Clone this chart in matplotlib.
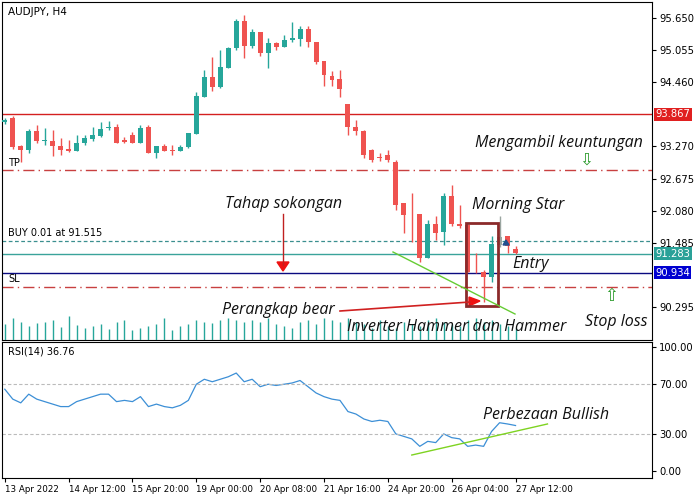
import matplotlib
matplotlib.use("Agg")
import matplotlib.pyplot as plt
from matplotlib.patches import Rectangle
import numpy as np

opens  = [93.72,93.80,93.28,93.20,93.56,93.37,93.37,93.28,93.22,93.19,93.33,93.41,93.46,93.61,93.63,93.39,93.48,93.33,93.63,93.15,
          93.28,93.20,93.19,93.26,93.50,94.19,94.56,94.37,94.72,95.09,95.59,95.13,95.39,95.00,95.19,95.11,95.24,95.26,95.45,95.20,
          94.85,94.58,94.52,94.05,93.63,93.56,93.20,93.07,93.11,92.98,92.22,92.04,92.02,91.20,91.83,91.68,92.35,91.83,91.81,90.95,
          90.94,90.85,91.44,91.61,91.37]
closes = [93.76,93.26,93.20,93.56,93.37,93.38,93.28,93.20,93.19,93.33,93.43,93.48,93.59,93.63,93.33,93.35,93.33,93.61,93.15,93.28,
          93.19,93.19,93.26,93.52,94.20,94.56,94.37,94.74,95.09,95.59,95.13,95.39,95.00,95.19,95.11,95.24,95.28,95.45,95.20,94.83,
          94.59,94.50,94.33,93.63,93.56,93.11,93.02,93.06,93.02,92.18,92.00,92.03,91.20,91.83,91.66,92.35,91.83,91.79,90.94,90.94,
          90.85,91.46,91.59,91.43,91.30]
highs  = [93.80,93.83,93.30,93.59,93.67,93.61,93.57,93.43,93.39,93.48,93.48,93.63,93.72,93.74,93.69,93.44,93.54,93.67,93.67,93.28,
          93.31,93.30,93.30,93.52,94.28,94.69,94.93,95.06,95.11,95.63,95.70,95.45,95.39,95.28,95.20,95.34,95.58,95.50,95.50,95.20,
          94.85,94.67,94.69,94.05,93.76,93.57,93.22,93.15,93.20,93.02,92.22,92.41,92.02,91.91,91.98,92.41,92.55,92.18,91.81,91.30,
          90.98,91.61,91.98,91.61,91.43]
lows   = [93.69,93.22,92.98,93.15,93.33,93.30,93.09,93.11,93.17,93.19,93.30,93.37,93.44,93.57,93.33,93.33,93.33,93.33,93.15,93.06,
          93.19,93.11,93.19,93.24,93.50,94.19,94.30,94.35,94.72,95.06,94.91,95.09,94.95,94.72,95.06,95.11,95.20,95.13,95.11,94.80,
          94.39,94.39,94.19,93.48,93.48,93.06,92.98,93.00,92.98,92.09,91.66,91.50,91.13,91.20,91.54,91.44,91.79,91.76,90.94,90.92,
          90.39,90.76,91.41,91.30,91.28]
volumes = [16,22,18,14,17,18,20,13,24,15,12,14,16,11,18,20,10,12,14,16,22,10,14,16,20,18,17,20,22,20,
           18,20,18,22,16,14,12,18,20,16,22,20,18,22,18,16,12,20,14,12,18,16,14,20,22,18,16,14,20,22,
           18,20,16,14,12]
rsi = [66,58,55,62,58,56,54,52,52,56,58,60,62,62,56,57,56,60,52,54,52,51,53,57,70,74,72,74,76,79,
       72,74,68,70,69,70,71,73,68,63,60,58,57,48,46,42,40,41,40,30,28,26,20,24,23,30,27,26,20,21,
       20,32,39,38,36.76]
date_labels = ["13 Apr 2022","14 Apr 12:00","15 Apr 20:00","19 Apr 00:00","20 Apr 08:00",
               "21 Apr 16:00","24 Apr 20:00","26 Apr 04:00","27 Apr 12:00"]
date_pos = [0, 8, 16, 24, 32, 40, 48, 56, 64]
price_ticks = [95.650,95.055,94.460,93.270,92.675,92.080,91.485,90.295]
rsi_ticks = [0,30,70,100]
line_red, line_tp, line_buy, line_bid, line_blue, line_sl = 93.867, 92.83, 91.515, 91.283, 90.934, 90.67

GREEN, RED, GRAY = '#26a69a', '#ef5350', '#9aa5a0'
W, H = 700, 500
fig = plt.figure(figsize=(7, 5), dpi=100)
def fx(x): return x / W
def fy(y): return 1 - y / H

ax = fig.add_axes([fx(2), fy(340), fx(650), 338 / H])
n = len(opens)
idx = np.arange(n)
XMIN, XMAX = -0.35, 81.1
YMIN, YMAX = 95.984 - 0.01853 * 340, 95.984 - 0.01853 * 2
for i in idx:
    o, c = opens[i], closes[i]
    col = GREEN if c >= o else RED
    if i == 62: col = GRAY
    ax.vlines(i, lows[i], highs[i], color=col, lw=1, zorder=3)
    ax.bar(i, max(abs(c - o), 0.012), bottom=min(o, c), width=0.62, color=col, zorder=4)
ax.set_xlim(XMIN, XMAX); ax.set_ylim(YMIN, YMAX)
ax.yaxis.tick_right()
ax.set_yticks(price_ticks)
ax.set_yticklabels([f"{v:.3f}" for v in price_ticks], fontsize=7.2)
ax.set_xticks([])
ax.tick_params(axis='y', length=3, pad=2)

ax.axhline(line_red, color='#d42020', lw=1)
ax.axhline(line_tp, color='#c84040', lw=1, ls=(0, (8, 3, 1, 3)))
ax.axhline(line_buy, color='#3a8f8f', lw=0.9, ls=(0, (3, 2)))
ax.axhline(line_bid, color='#3aa39a', lw=1)
ax.axhline(line_blue, color='#0a0a80', lw=1)
ax.axhline(line_sl, color='#c84040', lw=1, ls=(0, (8, 3, 1, 3)))
tr = ax.get_yaxis_transform()
for v, txt, fc in [(line_red, "93.867", '#e02020'), (line_bid, "91.283", '#2aa198'), (line_blue, "90.934", '#0000d0')]:
    ax.text(1.005, v, txt, transform=tr, fontsize=7.2, color='white', va='center', ha='left',
            bbox=dict(boxstyle='square,pad=0.15', fc=fc, ec='none'))
ax.text(0.01, 0.985, "AUDJPY, H4", transform=ax.transAxes, fontsize=7.5, va='top')
ax.text(0.01, line_tp + 0.05, "TP", transform=tr, fontsize=7, va='bottom')
ax.text(0.01, line_buy + 0.05, "BUY 0.01 at 91.515", transform=tr, fontsize=7, va='bottom')
ax.text(0.01, line_sl + 0.05, "SL", transform=tr, fontsize=7, va='bottom')

vax = fig.add_axes([fx(2), fy(340), fx(650), 30 / H])
vax.vlines(idx, 0, volumes, color=GREEN, lw=1)
vax.set_xlim(XMIN, XMAX); vax.set_ylim(0, 30); vax.axis('off')

rax = fig.add_axes([fx(2), fy(478), fx(650), 136 / H])
rax.plot(idx, rsi, color='#3c8fd6', lw=0.9)
rax.set_xlim(XMIN, XMAX)
rax.set_ylim(-5.5, 104)
rax.yaxis.tick_right()
rax.set_yticks(rsi_ticks)
rax.set_yticklabels([f"{v:.2f}" for v in rsi_ticks], fontsize=7.2)
rax.tick_params(axis='y', length=3, pad=2)
for v in (30, 70):
    rax.axhline(v, color='#bbbbbb', lw=0.8, ls=(0, (3, 2)))
rax.text(0.01, 0.97, "RSI(14) 36.76", transform=rax.transAxes, fontsize=7, va='top')
rax.set_xticks(date_pos)
rax.set_xticklabels(date_labels, fontsize=6.3, ha='left')
rax.tick_params(axis='x', length=3, pad=2)
rax.plot([51, 68], [13, 38], color='#7ed321', lw=1)

it = dict(fontsize=11.5, style='italic', color='#111111', family='Open Sans')
fig.text(fx(475), fy(143), "Mengambil keuntungan", va='center', **it)
fig.text(fx(225), fy(204), "Tahap sokongan", va='center', **it)
fig.text(fx(472), fy(205), "Morning Star", va='center', **it)
fig.text(fx(512), fy(264), "Entry", va='center', **it)
fig.text(fx(222), fy(310), "Perangkap bear", va='center', **it)
fig.text(fx(347), fy(327), "Inverter Hammer dan Hammer", va='center', **it)
fig.text(fx(585), fy(322), "Stop loss", va='center', **it)
fig.text(fx(483), fy(415), "Perbezaan Bullish", va='center', **it)

fig.add_artist(plt.Line2D([fx(283), fx(283)], [fy(214), fy(265)], color='#c02020', lw=1))
fig.add_artist(plt.Polygon([[fx(277), fy(262)], [fx(289), fy(262)], [fx(283), fy(271)]], color='#ee1111'))
fig.add_artist(plt.Line2D([fx(340), fx(470)], [fy(311), fy(302)], color='#d02020', lw=1.2))
fig.add_artist(plt.Polygon([[fx(469), fy(297)], [fx(469), fy(306)], [fx(480), fy(301)]], color='#ee1111'))
fig.add_artist(plt.Line2D([fx(393), fx(515)], [fy(252), fy(314)], color='#66cc33', lw=1))
fig.add_artist(Rectangle((fx(466), fy(306)), fx(32), 83 / H, fill=False, ec='#8b2a2a', lw=2))
fig.text(fx(586), fy(160), "⇩", fontsize=12, color='#2a9a2a', ha='center', va='center', family='DejaVu Sans')
fig.text(fx(611), fy(296), "⇧", fontsize=12, color='#2a9a2a', ha='center', va='center', family='DejaVu Sans')
fig.add_artist(plt.Polygon([[fx(503), fy(245)], [fx(509), fy(245)], [fx(506), fy(240)]], color='#1f4f8f'))

fig.savefig("out.png", dpi=100)
